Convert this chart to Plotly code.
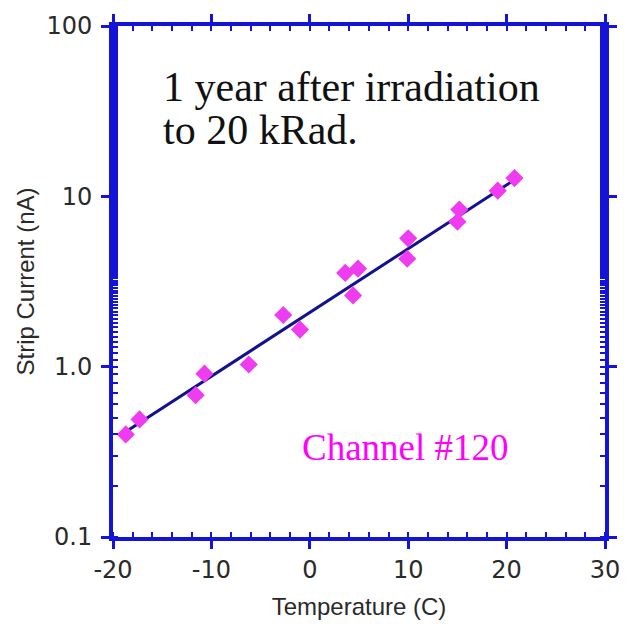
import plotly.graph_objects as go

# Data
temperature_c = [-18.7, -17.3, -11.6, -10.7, -6.2, -2.7, -1.0, 3.6, 4.9, 4.4,
                 10.0, 9.9, 15.2, 15.0, 19.1, 20.8]
strip_current_na = [0.40, 0.49, 0.68, 0.91, 1.03, 2.01, 1.65, 3.55, 3.76, 2.62,
                    5.67, 4.30, 8.36, 7.09, 10.8, 12.8]
fit_temperature_c = [-18.7, 20.8]
fit_current_na = [0.415, 12.5]

x_tick_vals = [-20, -10, 0, 10, 20, 30]
x_tick_text = ["-20", "-10", "0", "10", "20", "30"]
y_tick_vals = [0.1, 1, 10, 100]
y_tick_text = ["0.1", "1.0", "10", "100"]

AXIS_BLUE = "#1414d8"
TEXT_GRAY = "#2a2a2a"

fig = go.Figure()
fig.add_trace(go.Scatter(
    x=fit_temperature_c, y=fit_current_na, mode="lines",
    line=dict(color="#121290", width=3), showlegend=False, hoverinfo="skip"))
fig.add_trace(go.Scatter(
    x=temperature_c, y=strip_current_na, mode="markers",
    marker=dict(symbol="diamond", size=14, color="#f03cf0", line=dict(width=0)),
    showlegend=False))

fig.update_layout(
    width=632, height=629,
    margin=dict(l=113, r=26, t=22, b=90),
    paper_bgcolor="white", plot_bgcolor="white",
    font=dict(family="Liberation Sans, Arial, sans-serif", color=TEXT_GRAY),
)

fig.update_xaxes(
    range=[-20, 30], tickvals=x_tick_vals, ticktext=x_tick_text,
    showgrid=False, zeroline=False,
    showline=True, linecolor=AXIS_BLUE, linewidth=4, mirror="allticks",
    ticks="outside", ticklen=8, tickwidth=2.5, tickcolor=AXIS_BLUE,
    minor=dict(dtick=2, ticks="inside", ticklen=5, tickwidth=2, tickcolor=AXIS_BLUE),
    tickfont=dict(family="DejaVu Sans", size=24, color=TEXT_GRAY),
    title=dict(text="Temperature (C)", font=dict(size=24, color=TEXT_GRAY), standoff=16),
)
fig.update_yaxes(
    type="log", range=[-1, 2], tickvals=y_tick_vals, ticktext=y_tick_text,
    showgrid=False, zeroline=False,
    showline=True, linecolor=AXIS_BLUE, linewidth=4, mirror="allticks",
    ticks="outside", ticklen=8, tickwidth=2.5, tickcolor=AXIS_BLUE,
    minor=dict(ticks="inside", ticklen=5, tickwidth=2, tickcolor=AXIS_BLUE),
    tickfont=dict(family="DejaVu Sans", size=24, color=TEXT_GRAY),
    ticklabelstandoff=4,
    title=dict(text="Strip Current (nA)", font=dict(size=24, color=TEXT_GRAY), standoff=6),
)

serif = "Liberation Serif, Times New Roman, serif"
fig.add_annotation(
    text="1 year after irradiation", xref="paper", yref="paper",
    x=(161 - 113) / 493, y=(539 - 99) / 517, xanchor="left", yanchor="bottom",
    showarrow=False, font=dict(family=serif, size=42, color="#111111"), yshift=-10)
fig.add_annotation(
    text="to 20 kRad.", xref="paper", yref="paper",
    x=(161 - 113) / 493, y=(539 - 142) / 517, xanchor="left", yanchor="bottom",
    showarrow=False, font=dict(family=serif, size=42, color="#111111"), yshift=-10)
fig.add_annotation(
    text="Channel #120", xref="paper", yref="paper",
    x=(300 - 113) / 493, y=(539 - 462) / 517, xanchor="left", yanchor="bottom",
    showarrow=False, font=dict(family=serif, size=37, color="#ff00ff"), yshift=-9)

fig.write_html("out.html")
